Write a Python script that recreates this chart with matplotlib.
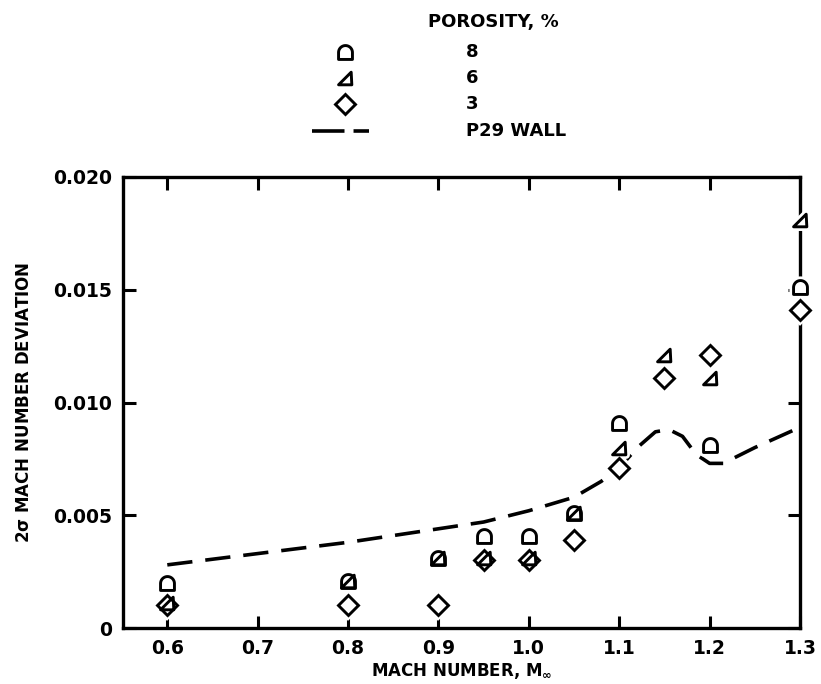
import numpy as np
import matplotlib
matplotlib.use("Agg")
import matplotlib.pyplot as plt
from matplotlib.path import Path
from matplotlib.lines import Line2D

# Measured data: 2-sigma Mach number deviation vs free-stream Mach number
mach_8 = [0.60, 0.80, 0.90, 0.95, 1.00, 1.05, 1.10, 1.20, 1.30]
dev_8 = [0.0020, 0.0021, 0.0031, 0.0041, 0.0041, 0.0051, 0.0091, 0.0081, 0.0151]

mach_6 = [0.60, 0.80, 0.90, 0.95, 1.00, 1.05, 1.10, 1.15, 1.20, 1.30]
dev_6 = [0.0011, 0.0021, 0.0031, 0.0031, 0.0031, 0.0051, 0.0080, 0.0121, 0.0111, 0.0181]

mach_3 = [0.60, 0.80, 0.90, 0.95, 1.00, 1.05, 1.10, 1.15, 1.20, 1.30]
dev_3 = [0.0010, 0.0010, 0.0010, 0.0030, 0.0030, 0.0039, 0.0071, 0.0111, 0.0121, 0.0141]

# P29 wall reference curve
mach_p29 = [0.60, 0.70, 0.80, 0.90, 0.95, 1.00, 1.05, 1.08, 1.10, 1.12, 1.14,
            1.155, 1.17, 1.185, 1.20, 1.215, 1.25, 1.30]
dev_p29 = [0.0028, 0.0033, 0.0038, 0.0044, 0.0047, 0.0052, 0.0058, 0.0065, 0.0071,
           0.0080, 0.0087, 0.0088, 0.0085, 0.0077, 0.0073, 0.0073, 0.0080, 0.0089]

x_ticks = [0.6, 0.7, 0.8, 0.9, 1.0, 1.1, 1.2, 1.3]
x_tick_labels = ["0.6", "0.7", "0.8", "0.9", "1.0", "1.1", "1.2", "1.3"]
y_ticks = [0, 0.005, 0.010, 0.015, 0.020]
y_tick_labels = ["0", "0.005", "0.010", "0.015", "0.020"]

legend_labels = ["8", "6", "3", "P29 WALL"]

# Custom marker shapes
t = np.linspace(0, np.pi, 20)
arch_verts = [(-1, -1), (1, -1), (1, 0)] + [(np.cos(a), np.sin(a)) for a in t[1:-1]] + [(-1, 0), (-1, -1)]
arch_marker = Path(arch_verts, closed=True)
tri_marker = Path([(-1.1, -1), (1, -1), (0.9, 1), (-1.1, -1)], closed=True)

plt.rcParams["font.family"] = ["DejaVu Sans"]
plt.rcParams["font.weight"] = "bold"

fig = plt.figure(figsize=(8.21, 6.84), dpi=100)
ax = fig.add_axes([123 / 821, 1 - 628 / 684, (800 - 123) / 821, (628 - 177) / 684])

ms = 10
lw_marker = 2.1
series = [(mach_8, dev_8, arch_marker), (mach_6, dev_6, tri_marker), (mach_3, dev_3, "D")]

ax.plot(mach_p29, dev_p29, color="black", linewidth=2.6, dashes=(7, 3.6), zorder=3)

# white halo under the markers so spines and curve break around them
for xs, ys, mk in series:
    ax.plot(xs, ys, marker=mk, markersize=ms, linestyle="none", markerfacecolor="white",
            markeredgecolor="white", markeredgewidth=6, clip_on=False, zorder=4)
for xs, ys, mk in series:
    ax.plot(xs, ys, marker=mk, markersize=ms, linestyle="none", markerfacecolor="none",
            markeredgecolor="black", markeredgewidth=lw_marker, clip_on=False, zorder=5)

ax.set_xlim(0.551, 1.3)
ax.set_ylim(0, 0.020)
ax.set_xticks(x_ticks)
ax.set_xticklabels(x_tick_labels)
ax.set_yticks(y_ticks)
ax.set_yticklabels(y_tick_labels)
ax.tick_params(direction="in", length=9, width=2.2, labelsize=13.5, pad=8,
               top=True, right=True)
for s in ax.spines.values():
    s.set_linewidth(2.4)
    s.set_zorder(2.5)

ax.set_xlabel(r"MACH NUMBER, M$_{\mathbf{\infty}}$", fontsize=12, fontweight="bold", labelpad=2)
ax.set_ylabel(r"2$\mathbf{\sigma}$ MACH NUMBER DEVIATION", fontsize=12, fontweight="bold", labelpad=14)

# Legend block above the plot
lax = fig.add_axes([0, 0, 1, 1])
lax.set_xlim(0, 821)
lax.set_ylim(684, 0)
lax.axis("off")
lax.text(428, 22, "POROSITY, %", fontsize=13, fontweight="bold", va="center", ha="left")
rows = [52, 78, 104]
for y, mk, lab in zip(rows, [arch_marker, tri_marker, "D"], legend_labels[:3]):
    lax.plot([345], [y], marker=mk, markersize=ms, linestyle="none",
             markerfacecolor="white", markeredgecolor="black", markeredgewidth=lw_marker)
    lax.text(466, y, lab, fontsize=13, fontweight="bold", va="center", ha="left")
lax.add_line(Line2D([312, 369], [131, 131], color="black", linewidth=2.6, dashes=(9, 2.5)))
lax.text(466, 131, legend_labels[3], fontsize=13, fontweight="bold", va="center", ha="left")

fig.savefig("out.png", dpi=100)
